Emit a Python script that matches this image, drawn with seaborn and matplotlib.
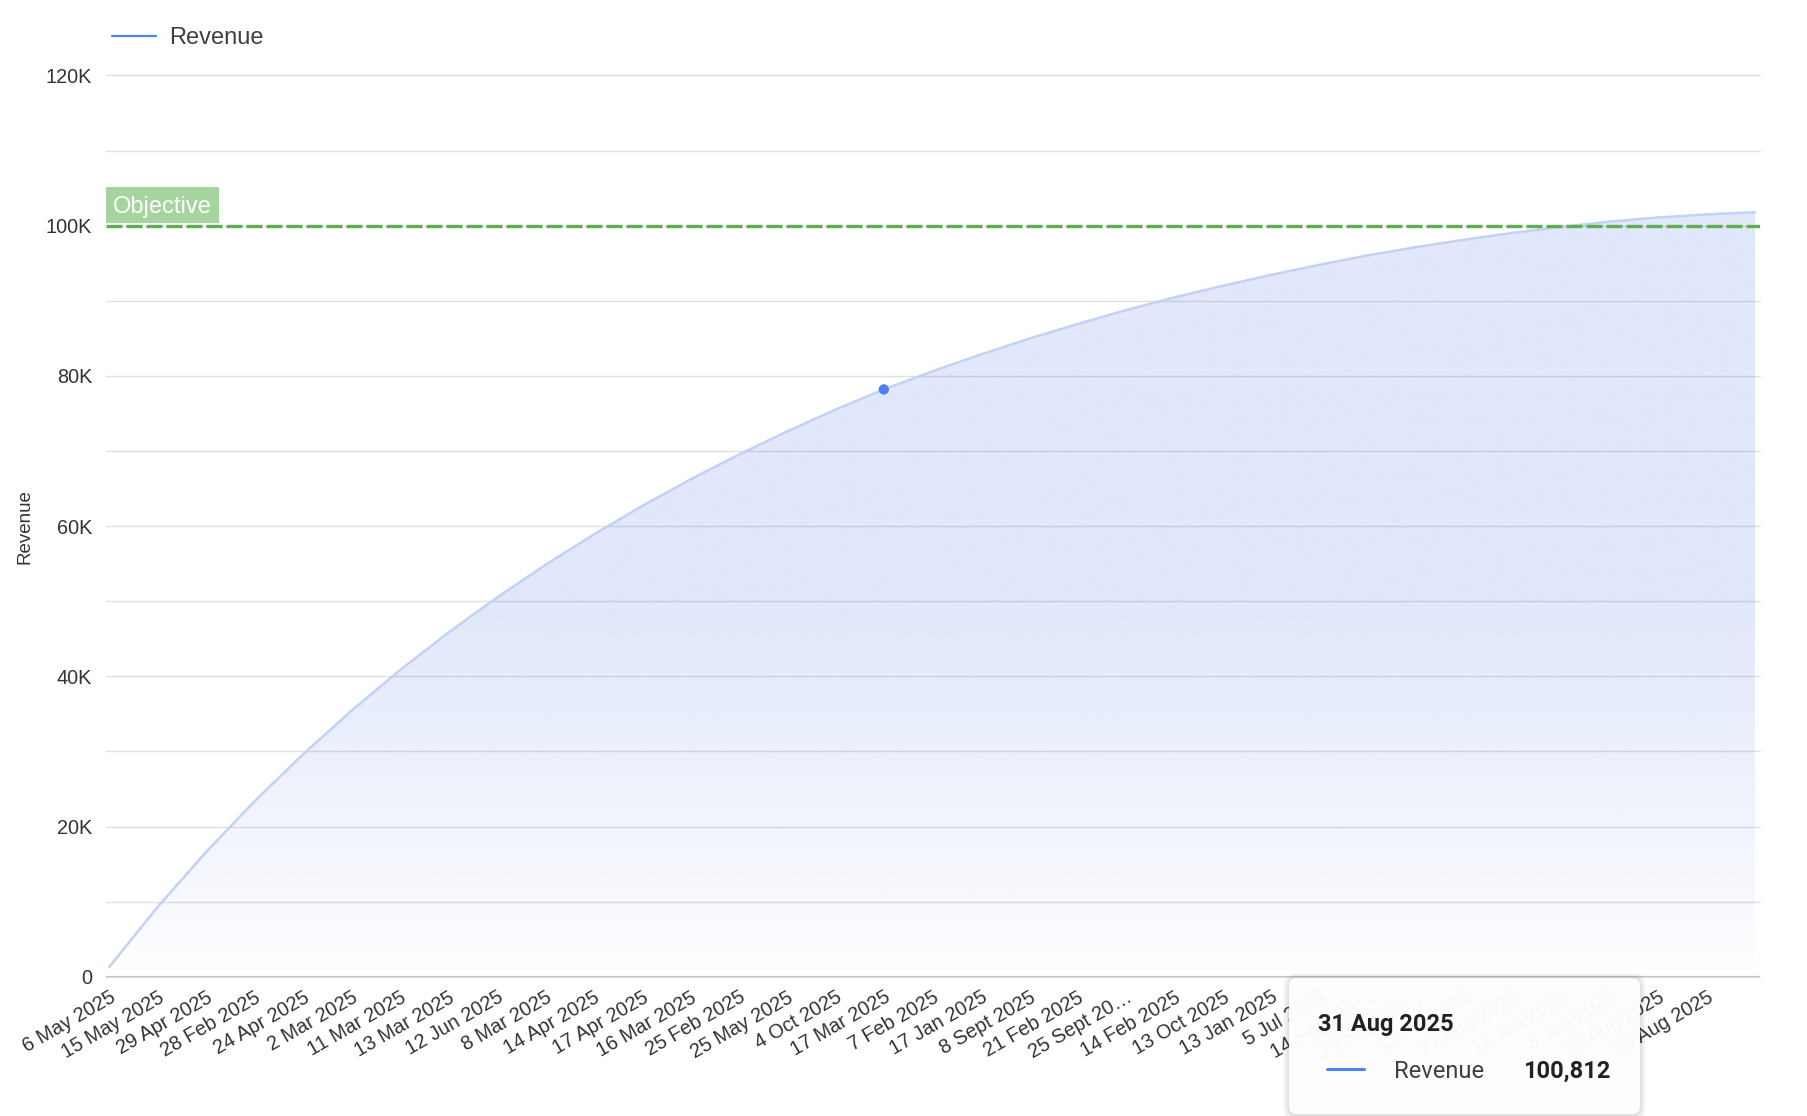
import numpy as np
import pandas as pd
import matplotlib
matplotlib.use("Agg")
import matplotlib.pyplot as plt
import seaborn as sns
from matplotlib.patches import Rectangle, FancyBboxPatch
from matplotlib.lines import Line2D
from matplotlib.transforms import IdentityTransform
from matplotlib.colors import to_rgb

# ---------------- data ----------------
tick_labels = [
    "6 May 2025", "15 May 2025", "29 Apr 2025", "28 Feb 2025", "24 Apr 2025",
    "2 Mar 2025", "11 Mar 2025", "13 Mar 2025", "12 Jun 2025", "8 Mar 2025",
    "14 Apr 2025", "17 Apr 2025", "16 Mar 2025", "25 Feb 2025", "25 May 2025",
    "4 Oct 2025", "17 Mar 2025", "7 Feb 2025", "17 Jan 2025", "8 Sept 2025",
    "21 Feb 2025", "25 Sept 20…", "14 Feb 2025", "13 Oct 2025", "13 Jan 2025",
    "5 Jul 2025", "14 Sept 20…", "15 Sept 20…", "16 Jul 2025", "27 Aug 2025",
    "11 Jan 2025", "3 Jan 2025", "23 Aug 2025", "30 Aug 2025",
]
revenue = [
    1300, 9300, 16600, 23350, 29600, 35400, 40800, 45800, 50450, 54800,
    58850, 62650, 66200, 69500, 72600, 75500, 78200, 80600, 82850, 84950,
    86900, 88750, 90450, 92000, 93450, 94800, 96050, 97150, 98150, 99050,
    99850, 100550, 101100, 101500, 101800,
]
y_ticks = [0, 20000, 40000, 60000, 80000, 100000, 120000]
y_tick_labels = ["0", "20K", "40K", "60K", "80K", "100K", "120K"]
y_grid = [10000, 30000, 50000, 70000, 90000, 110000]
objective = 100000
objective_label = "Objective"
series_name = "Revenue"
highlight_index = 16
tooltip_date = "31 Aug 2025"
tooltip_value = "100,812"

# ---------------- style ----------------
sns.set_style("white")
plt.rcParams["font.family"] = ["Liberation Sans", "DejaVu Sans"]

W, H = 1808, 1116
fig = plt.figure(figsize=(W / 100, H / 100), dpi=100)
fig.patch.set_facecolor("white")


def fx(px):
    return px / W


def fy(py):
    return 1 - py / H


ax_left, ax_right, ax_top, ax_bottom = 106, 1760, 75.5, 976.7
ax = fig.add_axes([fx(ax_left), fy(ax_bottom), (ax_right - ax_left) / W,
                   (ax_bottom - ax_top) / H])

n = len(revenue)
df = pd.DataFrame({"idx": np.arange(n), series_name: revenue})

# gradient area fill
poly = ax.fill_between(df["idx"], 0, df[series_name], facecolor="none",
                       edgecolor="none")
gy = np.linspace(0, 1, 512)
alpha = np.clip(gy * max(revenue) / 50000.0, 0, 1) ** 0.9
rgba = np.zeros((512, 1, 4))
rgba[..., :3] = to_rgb("#e1e8fb")
rgba[..., 3] = alpha[:, None]
im = ax.imshow(rgba, extent=[0, n - 1, 0, max(revenue)], origin="lower",
               aspect="auto", interpolation="bilinear", zorder=1)
im.set_clip_path(poly.get_paths()[0], transform=ax.transData)

sns.lineplot(data=df, x="idx", y=series_name, ax=ax, color="#c2d2f6",
             linewidth=1.8, zorder=3, legend=False)
sns.scatterplot(x=[highlight_index], y=[revenue[highlight_index]], ax=ax,
                s=55, color="#4a7fef", edgecolor="none", zorder=6, legend=False)

ax.set_xlim(-0.068, n - 1 + 0.1)
ax.set_ylim(0, 120000)

# axes / ticks
ax.set_yticks(y_ticks)
ax.set_yticklabels(y_tick_labels)
ax.set_yticks(y_grid, minor=True)
ax.set_xticks(range(len(tick_labels)))
ax.set_xticklabels(tick_labels, rotation=30, ha="right", rotation_mode="anchor")
ax.tick_params(axis="both", which="both", length=0, labelsize=14.3,
               labelcolor="#333333")
ax.tick_params(axis="y", pad=10)
ax.tick_params(axis="x", pad=8)
ax.set_axisbelow(False)
ax.grid(axis="y", which="both", color="#000000", alpha=0.12, linewidth=1)
ax.grid(axis="x", visible=False)
for t in (ax.yaxis.get_major_ticks(len(y_ticks))
          + ax.yaxis.get_minor_ticks(len(y_grid))):
    t.gridline.set_clip_on(False)
sns.despine(ax=ax, left=True, top=True, right=True, bottom=True)
ax.axhline(0, color="#c2c2c2", linewidth=1.6, zorder=4)
ax.set_xlabel("")
ax.set_ylabel(series_name, fontsize=13.5, color="#333333")
ax.yaxis.set_label_coords(-0.0438, 0.5)

# objective line + label
ax.axhline(objective, color="#5fae52", linewidth=2.4, dashes=(4.8, 1.2),
           zorder=5)
ytr = ax.get_yaxis_transform()
ax.add_patch(Rectangle((0, objective + 360), 0.0683, 4790, transform=ytr,
                       facecolor="#a6d49e", edgecolor="none", zorder=5,
                       clip_on=False))
ax.text(0.0042, objective + 1690, objective_label, transform=ytr, ha="left",
        va="baseline", fontsize=17, color="white", zorder=6)

# legend (top-left)
fig.add_artist(Line2D([fx(112), fx(156)], [fy(35.7), fy(35.7)],
                      transform=fig.transFigure, color="#4e84ee", linewidth=1.6))
fig.text(fx(169), fy(44.2), series_name, fontsize=17, color="#3c4043",
         va="baseline", ha="left")

# tooltip
tx0, tx1, ttop, tbot = 1289, 1640, 978, 1114
for k in range(1, 7):
    fig.add_artist(FancyBboxPatch(
        (tx0 - k, H - tbot - k - 1), (tx1 - tx0) + 2 * k, (tbot - ttop) + 2 * k,
        boxstyle=f"round,pad=0,rounding_size={8 + k}",
        transform=IdentityTransform(), facecolor=(0, 0, 0, 0.018),
        edgecolor="none", zorder=9))
fig.add_artist(FancyBboxPatch(
    (tx0, H - tbot), tx1 - tx0, tbot - ttop,
    boxstyle="round,pad=0,rounding_size=8", transform=IdentityTransform(),
    facecolor=(1, 1, 1, 0.97), edgecolor="none", zorder=10))
fig.text(fx(1318), fy(1031), tooltip_date, fontfamily=["Roboto", "DejaVu Sans"],
         fontweight="bold", fontsize=17, color="#202124", va="baseline",
         ha="left", zorder=11)
fig.add_artist(Line2D([fx(1327), fx(1364)], [fy(1069), fy(1069)],
                      transform=fig.transFigure, color="#4e84ee", linewidth=2.2,
                      zorder=11))
fig.text(fx(1394), fy(1078), series_name, fontfamily=["Roboto", "DejaVu Sans"],
         fontsize=17, color="#3c4043", va="baseline", ha="left", zorder=11)
fig.text(fx(1610), fy(1078), tooltip_value, fontfamily=["Roboto", "DejaVu Sans"],
         fontweight="bold", fontsize=17, color="#202124", va="baseline",
         ha="right", zorder=11)

fig.savefig("out.png", dpi=100, facecolor="white")
